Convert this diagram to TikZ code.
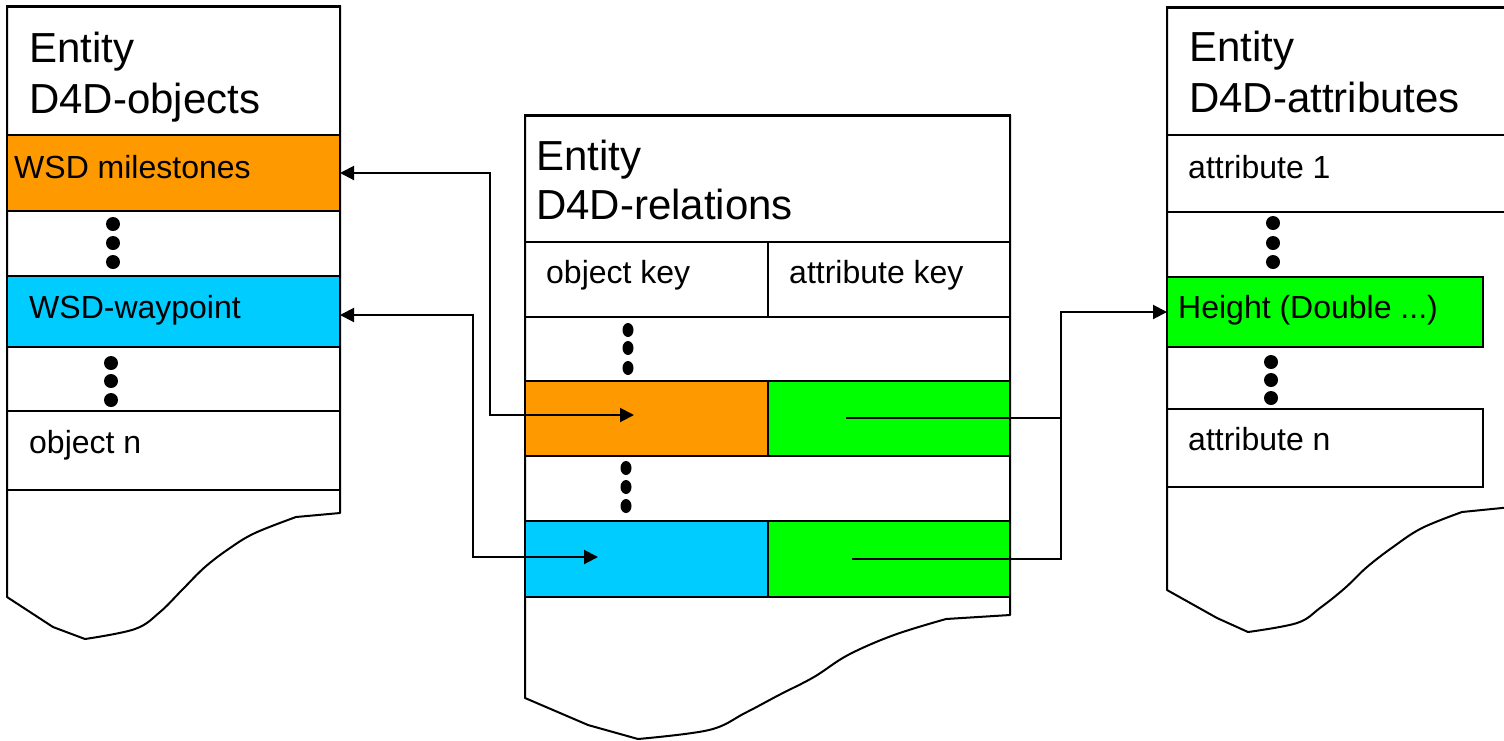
\documentclass[tikz,border=0pt]{standalone}
\usepackage{fontspec}
\setmainfont{Liberation Sans}
\usetikzlibrary{arrows.meta}
\definecolor{orng}{HTML}{FF9900}
\definecolor{cyn}{HTML}{00CCFF}
\definecolor{grn}{HTML}{00FF00}
\begin{document}
\begin{tikzpicture}[x=1pt,y=-1pt,
  cell/.style={draw=black, line width=2pt, rectangle, inner sep=0pt, outer sep=0pt, anchor=north west},
  big/.style={inner sep=0pt, anchor=base west, font=\fontsize{42}{50}\selectfont},
  small/.style={inner sep=0pt, anchor=base west, font=\fontsize{32}{38}\selectfont},
  conn/.style={line width=2pt},
  tip/.style={-{Triangle[length=14pt,width=14pt]}},
  bothtips/.style={{Triangle[length=14pt,width=14pt]}-{Triangle[length=14pt,width=14pt]}},
  outline/.style={line width=2pt, line join=round, fill=white}]
\useasboundingbox (0,0) rectangle (1504,740);
\fill[white] (0,0) rectangle (1504,740);

% ---------- outlines (torn sheets) ----------
\draw[outline] (7,6) -- (340,6) -- (340,513) -- (296,517)
  -- plot[smooth,tension=0.6] coordinates {(296,517)(255,533)(230,548)(205,567)(182,590)(160,612)(135,629)(85,639)}
  -- (53,627) -- (7,597) -- cycle;
\draw[outline] (525,115) -- (1010,115) -- (1010,615) -- (946,619)
  -- plot[smooth,tension=0.6] coordinates {(946,619)(894,635)(848,655)(814,677)(779,695)(745,713)(709,730)(638,739)}
  -- (588,725) -- (525,698) -- cycle;
\fill[white] (1167,7) -- (1512,7) -- (1512,507) -- (1462,512)
  -- plot[smooth,tension=0.6] coordinates {(1462,512)(1422,528)(1393,547)(1367,567)(1345,588)(1320,608)(1297,623)(1248,632)}
  -- (1217,618) -- (1167,590) -- cycle;
\draw[line width=2pt, line join=round] (1512,507) -- (1462,512)
  -- plot[smooth,tension=0.6] coordinates {(1462,512)(1422,528)(1393,547)(1367,567)(1345,588)(1320,608)(1297,623)(1248,632)}
  -- (1217,618) -- (1167,590) -- (1167,7) -- (1512,7);

% ---------- left table ----------
\node[cell, minimum width=333pt, minimum height=129pt] (lh) at (7,6) {};
\node[cell, fill=orng, minimum width=333pt, minimum height=76pt] (ms) at (7,135) {};
\node[cell, fill=cyn, minimum width=333pt, minimum height=71pt] (wp) at (7,276) {};
\node[cell, minimum width=333pt, minimum height=79pt] (on) at (7,411) {};
\draw[line width=3pt] (lh.north west) -- (lh.north east);

% ---------- middle table ----------
\node[cell, minimum width=485pt, minimum height=127pt] (mh) at (525,115) {};
\node[cell, minimum width=243pt, minimum height=75pt] (ok) at (525,242) {};
\node[cell, minimum width=242pt, minimum height=75pt] (ak) at (768,242) {};
\node[cell, fill=orng, minimum width=243pt, minimum height=75pt] (o1) at (525,381) {};
\node[cell, fill=grn, minimum width=242pt, minimum height=75pt] (g1) at (768,381) {};
\node[cell, fill=cyn, minimum width=243pt, minimum height=76pt] (c2) at (525,521) {};
\node[cell, fill=grn, minimum width=242pt, minimum height=76pt] (g2) at (768,521) {};
\draw[line width=3pt] (mh.north west) -- (mh.north east);

% ---------- right table ----------
\node[cell, minimum width=345pt, minimum height=128pt] (rh) at (1167,7) {};
\node[cell, minimum width=345pt, minimum height=77pt] (a1) at (1167,135) {};
\node[cell, fill=grn, minimum width=316pt, minimum height=70pt] (ht) at (1167,277) {};
\node[cell, minimum width=316pt, minimum height=78pt] (an) at (1167,409) {};
\draw[line width=3pt] (rh.north west) -- (rh.north east);

% ---------- texts ----------
\node[big] (lt1) at (29,62) {Entity};
\node[big] (lt2) at (29,113) {D4D-objects};
\node[small] (mst) at (14,178) {WSD milestones};
\node[small] (wpt) at (29,318) {WSD-waypoint};
\node[small] (ont) at (29,453) {object n};
\node[big] (mt1) at (536,170) {Entity};
\node[big] (mt2) at (536,219) {D4D-relations};
\node[small] (okt) at (546,283) {object key};
\node[small] (akt) at (789,283) {attribute key};
\node[big] (rt1) at (1189,61) {Entity};
\node[big] (rt2) at (1189,112) {D4D-attributes};
\node[small] (a1t) at (1188,178) {attribute 1};
\node[small] (htt) at (1178,318) {Height (Double ...)};
\node[small] (ant) at (1188,450) {attribute n};

% ---------- dots ----------
\foreach \yy in {224,243,262} \fill (113,\yy) circle (7pt);
\foreach \yy in {363,381,400} \fill (111,\yy) circle (7pt);
\foreach \yy in {330,348,368} \fill (628,\yy) ellipse [x radius=5.5pt, y radius=7pt];
\foreach \yy in {468,487,506} \fill (626,\yy) ellipse [x radius=5.5pt, y radius=7pt];
\foreach \yy in {223,243,262} \fill (1273,\yy) circle (7pt);
\foreach \yy in {362,380,398} \fill (1271,\yy) circle (7pt);

% ---------- connectors ----------
\coordinate (oa) at (634,415);
\coordinate (ca) at (598,557);
\coordinate (ga1) at (846,418);
\coordinate (ga2) at (852,559);
\coordinate (j1) at (490,415);
\coordinate (j2) at (473,557);
\coordinate (j3) at (1061,418);
\draw[conn, bothtips] (ms.east) -| (j1) -- (oa);
\draw[conn, bothtips] ([yshift=-3.5pt]wp.east) -| (j2) -- (ca);
\draw[conn, tip] (ga1) -- (j3) |- (ht.west);
\draw[conn] (ga2) -| (j3);
\end{tikzpicture}
\end{document}
